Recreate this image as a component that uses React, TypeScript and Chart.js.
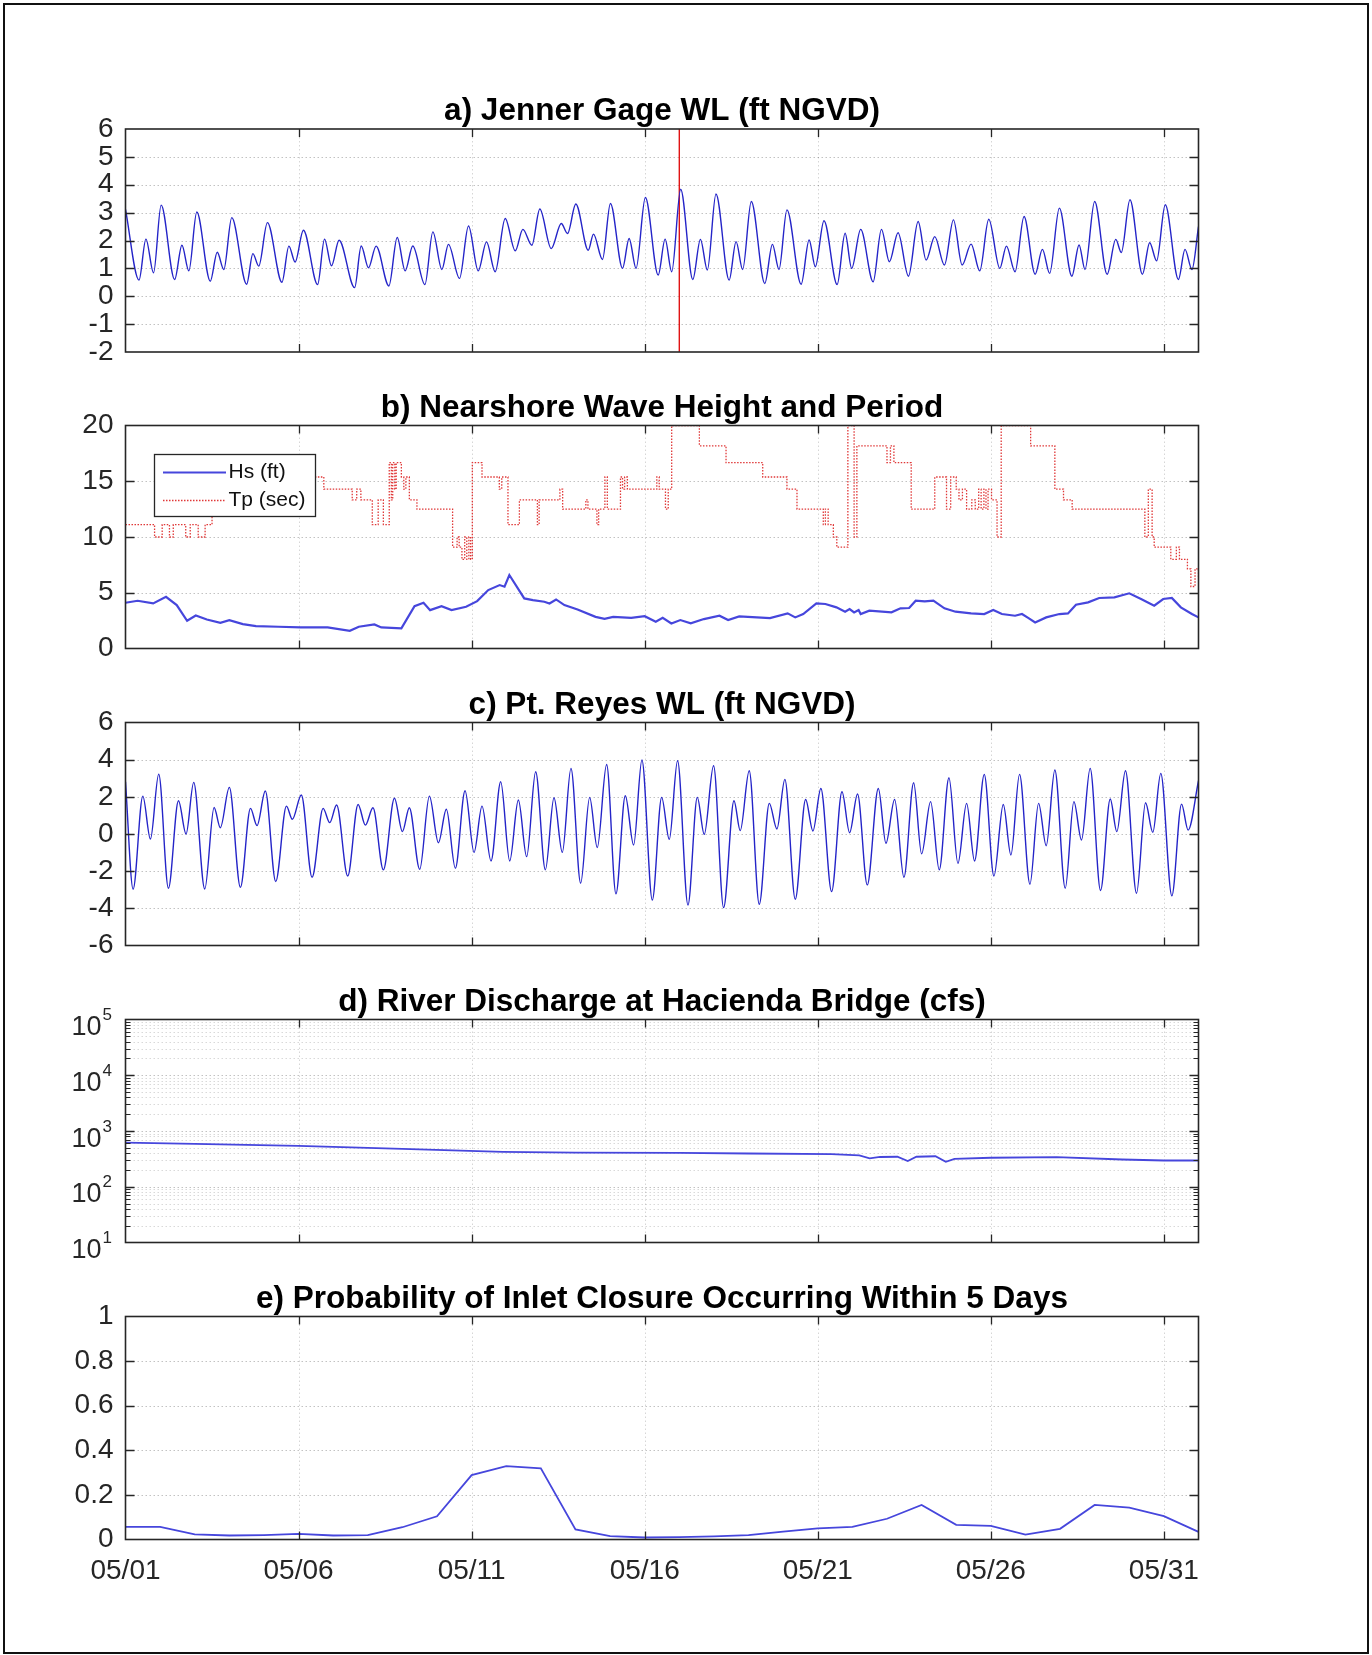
import React, { useEffect, useRef } from 'react';
import { Chart, registerables } from 'chart.js';

Chart.register(...registerables);

const FONT = '"Liberation Sans", Arial, Helvetica, sans-serif';
const AXIS_COLOR = '#262626';
const PAGE_W = 1372;
const PAGE_H = 1655;
const PLOT_LEFT = 125.5;
const PLOT_RIGHT = 1198.5;
const PLOT_H = 223;

// ---------- shared x axis (days since 05/01) ----------
const X_MIN = 0;
const X_MAX = 31;
const xTickDays = [0, 5, 10, 15, 20, 25, 30];
const xTickLabels = ['05/01', '05/06', '05/11', '05/16', '05/21', '05/26', '05/31'];

// ---------- titles ----------
const titleA = 'a) Jenner Gage WL (ft NGVD)';
const titleB = 'b) Nearshore Wave Height and Period';
const titleC = 'c) Pt. Reyes WL (ft NGVD)';
const titleD = 'd) River Discharge at Hacienda Bridge (cfs)';
const titleE = 'e) Probability of Inlet Closure Occurring Within 5 Days';

// ---------- a) Jenner gage water level: [day, ft] (highs and lows) ----------
const jennerWL: [number, number][] = [
  [0, 3.12], [0.39, 0.58], [0.59, 2.05], [0.81, 0.84], [1.03, 3.27], [1.42, 0.6], [1.63, 1.83], [1.83, 0.91],
  [2.06, 3.02], [2.45, 0.54], [2.65, 1.58], [2.84, 0.96], [3.07, 2.82], [3.5, 0.43], [3.68, 1.53], [3.85, 1.08],
  [4.1, 2.64], [4.52, 0.5], [4.72, 1.8], [4.9, 1.23], [5.14, 2.37], [5.55, 0.42], [5.75, 2.05], [5.95, 1.09],
  [6.17, 2.01], [6.62, 0.31], [6.81, 1.8], [7.02, 1.02], [7.24, 1.8], [7.61, 0.37], [7.85, 2.11], [8.08, 0.91],
  [8.3, 1.8], [8.65, 0.42], [8.88, 2.31], [9.14, 0.96], [9.33, 1.86], [9.65, 0.64], [9.91, 2.52], [10.19, 0.91],
  [10.43, 1.95], [10.68, 0.88], [10.97, 2.79], [11.26, 1.63], [11.48, 2.4], [11.74, 1.83], [11.97, 3.13], [12.3, 1.71],
  [12.59, 2.61], [12.77, 2.25], [13.01, 3.31], [13.37, 1.65], [13.52, 2.23], [13.78, 1.32], [14.01, 3.33], [14.36, 1.0],
  [14.55, 2.07], [14.75, 1.0], [15.02, 3.54], [15.39, 0.76], [15.59, 2.05], [15.78, 0.88], [16.04, 3.84], [16.39, 0.6],
  [16.61, 2.04], [16.81, 0.94], [17.06, 3.67], [17.44, 0.58], [17.64, 1.96], [17.83, 0.96], [18.08, 3.4], [18.47, 0.46],
  [18.69, 1.86], [18.88, 0.96], [19.11, 3.1], [19.52, 0.43], [19.75, 2.02], [19.93, 1.06], [20.18, 2.71], [20.56, 0.42],
  [20.79, 2.26], [20.98, 1.0], [21.24, 2.4], [21.6, 0.52], [21.84, 2.4], [22.07, 1.24], [22.32, 2.28], [22.62, 0.72],
  [22.9, 2.68], [23.13, 1.3], [23.38, 2.14], [23.66, 1.12], [23.92, 2.74], [24.17, 1.12], [24.43, 1.87], [24.68, 0.91],
  [24.94, 2.76], [25.26, 1.0], [25.45, 1.8], [25.7, 0.88], [25.96, 2.86], [26.28, 0.79], [26.49, 1.68], [26.7, 0.82],
  [26.98, 3.16], [27.34, 0.72], [27.55, 1.84], [27.72, 0.96], [28.0, 3.4], [28.36, 0.79], [28.61, 2.04], [28.77, 1.57],
  [29.02, 3.46], [29.38, 0.79], [29.59, 1.92], [29.79, 1.27], [30.04, 3.28], [30.42, 0.6], [30.61, 1.68], [30.81, 0.96],
  [31.0, 2.5],
];
const markerDay = 16;

// ---------- b) wave height (ft) and peak period (sec) ----------
const waveHs: [number, number][] = [
  [0, 4.1], [0.35, 4.28], [0.8, 4.04], [1.17, 4.64], [1.48, 3.89], [1.78, 2.49], [2.03, 2.96], [2.35, 2.6],
  [2.74, 2.31], [3.0, 2.54], [3.39, 2.19], [3.77, 2.0], [4.42, 1.95], [5.06, 1.89], [5.84, 1.89], [6.48, 1.59],
  [6.74, 1.95], [7.19, 2.16], [7.39, 1.89], [7.97, 1.8], [8.35, 3.8], [8.61, 4.1], [8.8, 3.44], [9.13, 3.8],
  [9.42, 3.44], [9.84, 3.74], [10.16, 4.25], [10.48, 5.24], [10.81, 5.69], [10.95, 5.54], [11.09, 6.59], [11.52, 4.49],
  [11.77, 4.34], [12.1, 4.19], [12.25, 4.04], [12.44, 4.4], [12.68, 3.89], [13.06, 3.5], [13.58, 2.84], [13.84, 2.66],
  [14.09, 2.84], [14.61, 2.75], [15.0, 2.9], [15.32, 2.4], [15.52, 2.75], [15.77, 2.25], [16.03, 2.55], [16.33, 2.25],
  [16.71, 2.64], [17.16, 2.94], [17.41, 2.55], [17.73, 2.88], [18.24, 2.79], [18.62, 2.73], [19.13, 3.15], [19.35, 2.79],
  [19.58, 3.09], [19.96, 4.05], [20.22, 3.99], [20.54, 3.69], [20.79, 3.3], [20.92, 3.54], [21.05, 3.24], [21.18, 3.45],
  [21.24, 3.09], [21.49, 3.39], [22.13, 3.24], [22.39, 3.6], [22.64, 3.63], [22.83, 4.29], [23.09, 4.23], [23.34, 4.29],
  [23.66, 3.6], [23.98, 3.3], [24.43, 3.15], [24.81, 3.09], [25.07, 3.45], [25.32, 3.09], [25.7, 2.94], [25.9, 3.09],
  [26.09, 2.73], [26.28, 2.34], [26.6, 2.79], [26.98, 3.09], [27.23, 3.15], [27.46, 3.93], [27.81, 4.14], [28.13, 4.53],
  [28.57, 4.59], [29.0, 4.95], [29.34, 4.44], [29.72, 3.84], [29.98, 4.44], [30.23, 4.53], [30.49, 3.69], [30.81, 3.09],
  [31.0, 2.79],
];
const waveTp: [number, number][] = [
  [0, 11.11], [0.84, 10], [1.06, 11.11], [1.27, 10], [1.38, 11.11], [1.74, 10], [1.87, 11.11], [2.1, 10],
  [2.3, 11.11], [2.5, 12.5], [3.4, 14.29], [4.4, 15.38], [5.73, 14.29], [6.55, 13.33], [6.68, 14.29], [6.8, 13.33],
  [7.13, 11.11], [7.3, 13.33], [7.45, 11.11], [7.62, 16.67], [7.68, 13.33], [7.72, 16.67], [7.78, 14.29], [7.82, 16.67],
  [7.97, 15.38], [8.04, 14.29], [8.1, 15.38], [8.2, 13.33], [8.42, 12.5], [9.45, 9.09], [9.58, 10], [9.64, 9.09],
  [9.72, 8.0], [9.8, 10], [9.86, 8.0], [9.92, 10], [9.97, 8.0], [10.02, 16.67], [10.3, 15.38], [10.8, 14.29],
  [10.87, 15.38], [11.05, 11.11], [11.38, 13.33], [11.9, 11.11], [11.95, 13.33], [12.55, 14.29], [12.63, 12.5], [13.3, 13.33],
  [13.36, 12.5], [13.62, 11.11], [13.67, 12.5], [13.85, 15.38], [13.92, 12.5], [14.3, 15.38], [14.36, 14.29], [14.42, 15.38],
  [14.5, 14.29], [15.35, 15.38], [15.42, 14.29], [15.6, 12.5], [15.68, 14.29], [15.78, 20], [16.58, 18.18], [17.35, 16.67],
  [18.41, 15.38], [19.11, 14.29], [19.4, 12.5], [20.16, 11.11], [20.22, 12.5], [20.3, 11.11], [20.45, 10], [20.55, 9.09],
  [20.87, 20], [21.05, 10], [21.13, 18.18], [22.0, 16.67], [22.1, 18.18], [22.2, 16.67], [22.7, 12.5], [23.38, 15.38],
  [23.72, 12.5], [23.84, 15.38], [24.0, 14.29], [24.08, 13.33], [24.18, 14.29], [24.3, 12.5], [24.45, 13.33], [24.55, 12.5],
  [24.65, 14.29], [24.72, 12.5], [24.8, 14.29], [24.86, 12.5], [24.92, 14.29], [25.02, 13.33], [25.18, 10], [25.3, 20],
  [26.15, 18.18], [26.85, 14.29], [27.1, 13.33], [27.35, 12.5], [29.45, 10], [29.55, 14.29], [29.66, 10], [29.72, 9.09],
  [30.2, 8.0], [30.36, 9.09], [30.45, 8.0], [30.68, 7.14], [30.78, 5.56], [30.9, 7.14], [31, 6.25],
];

// ---------- c) Pt. Reyes water level: [day, ft] (highs and lows) ----------
const reyesWL: [number, number][] = [
  [0, 2.81], [0.22, -2.97], [0.5, 2.04], [0.72, -0.27], [0.96, 3.22], [1.24, -2.92], [1.53, 1.79], [1.75, 0.0],
  [1.97, 2.78], [2.29, -2.96], [2.56, 1.43], [2.74, 0.34], [3.0, 2.51], [3.32, -2.87], [3.61, 1.38], [3.8, 0.45],
  [4.04, 2.31], [4.34, -2.56], [4.65, 1.5], [4.82, 0.79], [5.08, 2.1], [5.39, -2.33], [5.71, 1.38], [5.9, 0.61],
  [6.1, 1.56], [6.42, -2.26], [6.72, 1.59], [6.93, 0.48], [7.15, 1.41], [7.45, -1.93], [7.77, 1.92], [8.0, 0.13],
  [8.2, 1.41], [8.5, -1.9], [8.78, 2.04], [9.04, -0.47], [9.27, 1.33], [9.53, -1.84], [9.81, 2.33], [10.07, -0.99],
  [10.3, 1.5], [10.56, -1.45], [10.84, 2.81], [11.1, -1.45], [11.35, 1.83], [11.59, -1.22], [11.85, 3.35], [12.13, -1.93],
  [12.38, 1.95], [12.62, -0.99], [12.87, 3.53], [13.15, -2.65], [13.41, 1.97], [13.63, -0.73], [13.9, 3.74], [14.17, -3.22],
  [14.44, 2.06], [14.68, -0.59], [14.92, 3.98], [15.22, -3.55], [15.49, 1.97], [15.71, -0.29], [15.95, 3.94], [16.25, -3.82],
  [16.52, 1.97], [16.72, -0.02], [16.99, 3.67], [17.28, -3.96], [17.58, 1.79], [17.76, 0.18], [18.02, 3.4], [18.31, -3.78],
  [18.6, 1.65], [18.82, 0.27], [19.05, 2.94], [19.35, -3.51], [19.65, 1.86], [19.86, 0.16], [20.09, 2.45], [20.4, -3.1],
  [20.7, 2.27], [20.92, 0.07], [21.15, 2.15], [21.43, -2.74], [21.75, 2.45], [21.97, -0.5], [22.22, 1.86], [22.49, -2.33],
  [22.77, 2.76], [23.0, -1.07], [23.26, 1.74], [23.51, -1.93], [23.79, 3.03], [24.05, -1.58], [24.3, 1.65], [24.53, -1.45],
  [24.81, 3.21], [25.09, -2.26], [25.36, 1.59], [25.58, -1.13], [25.83, 3.21], [26.13, -2.7], [26.38, 1.65], [26.6, -0.63],
  [26.85, 3.44], [27.15, -2.92], [27.4, 1.74], [27.62, -0.32], [27.87, 3.53], [28.17, -3.04], [28.45, 1.88], [28.64, 0.13],
  [28.89, 3.4], [29.21, -3.19], [29.47, 1.68], [29.68, 0.09], [29.91, 3.26], [30.23, -3.33], [30.51, 1.61], [30.7, 0.21],
  [31.0, 2.87],
];

// ---------- d) river discharge (cfs) ----------
const discharge: [number, number][] = [
  [0, 620], [2, 590], [5, 540], [8, 478], [10.9, 422], [13, 410], [16, 405], [18, 395], [20.4, 384], [21.2, 365],
  [21.5, 322], [21.8, 342], [22.3, 345], [22.6, 290], [22.85, 345], [23.4, 352], [23.7, 280], [23.95, 316],
  [25, 331], [26.9, 339], [28.8, 308], [30, 296], [31, 296],
];
const logDecades = [1, 2, 3, 4, 5];

// ---------- e) probability of closure (daily) ----------
const closureProb: [number, number][] = [
  [0, 0.057], [1, 0.057], [2, 0.023], [3, 0.018], [4, 0.02], [5, 0.025], [6, 0.018], [7, 0.02],
  [8, 0.055], [9, 0.104], [10, 0.289], [11, 0.329], [12, 0.319], [13, 0.045], [14, 0.015], [15, 0.009],
  [16, 0.011], [17, 0.014], [18, 0.02], [19, 0.035], [20, 0.05], [21, 0.057], [22, 0.093], [23, 0.155],
  [24, 0.066], [25, 0.061], [26, 0.022], [27, 0.048], [28, 0.155], [29, 0.143], [30, 0.105], [31, 0.034],
];

// ---------- styles ----------
const WL_BLUE = '#2424c8';
const SOFT_BLUE = '#4646dc';
const TP_RED = '#e03838';
const MARK_RED = '#e01414';
const TICK_FONT_SIZE = 28;
const TITLE_FONT_SIZE = 31.5;

const toXY = (arr: [number, number][]) => arr.map(([x, y]) => ({ x, y }));

type PanelSpec = {
  key: string;
  title: string;
  chartTop: number;
  log?: boolean;
  yMin: number;
  yMax: number;
  yStep?: number;
  yGrid: number[];
  yMinor?: number[];
  showX: boolean;
  legend?: boolean;
  datasets: any[];
};

function range(a: number, b: number, s: number) {
  const out: number[] = [];
  for (let v = a; v <= b + 1e-9; v += s) out.push(Math.round(v * 1000) / 1000);
  return out;
}

function makeDeco(spec: PanelSpec) {
  return {
    id: 'deco_' + spec.key,
    beforeDatasetsDraw(chart: any) {
      const { ctx, chartArea: ca } = chart;
      const xs = chart.scales.x;
      const ys = chart.scales.y;
      ctx.save();
      ctx.lineWidth = 1;
      ctx.setLineDash([1.5, 2.5]);
      if (spec.yMinor) {
        ctx.strokeStyle = 'rgba(0,0,0,0.15)';
        for (const v of spec.yMinor) {
          const py = Math.round(ys.getPixelForValue(v)) + 0.5;
          ctx.beginPath();
          ctx.moveTo(ca.left, py);
          ctx.lineTo(ca.right, py);
          ctx.stroke();
        }
      }
      ctx.strokeStyle = 'rgba(0,0,0,0.24)';
      for (const v of spec.yGrid) {
        if (v <= spec.yMin || v >= spec.yMax) continue;
        const py = Math.round(ys.getPixelForValue(v)) + 0.5;
        ctx.beginPath();
        ctx.moveTo(ca.left, py);
        ctx.lineTo(ca.right, py);
        ctx.stroke();
      }
      ctx.strokeStyle = 'rgba(0,0,0,0.16)';
      for (const d of xTickDays) {
        if (d <= X_MIN || d >= X_MAX) continue;
        const px = Math.round(xs.getPixelForValue(d)) + 0.5;
        ctx.beginPath();
        ctx.moveTo(px, ca.top);
        ctx.lineTo(px, ca.bottom);
        ctx.stroke();
      }
      ctx.restore();
    },
    afterDatasetsDraw(chart: any) {
      const { ctx, chartArea: ca } = chart;
      const xs = chart.scales.x;
      const ys = chart.scales.y;
      ctx.save();
      ctx.setLineDash([]);
      ctx.strokeStyle = AXIS_COLOR;
      ctx.lineWidth = 1.3;
      // x ticks (inward, bottom and top)
      for (const d of xTickDays) {
        if (d <= X_MIN || d >= X_MAX) continue;
        const px = Math.round(xs.getPixelForValue(d)) + 0.5;
        ctx.beginPath();
        ctx.moveTo(px, ca.bottom);
        ctx.lineTo(px, ca.bottom - 8);
        ctx.moveTo(px, ca.top);
        ctx.lineTo(px, ca.top + 8);
        ctx.stroke();
      }
      // y ticks (inward, left and right)
      for (const v of spec.yGrid) {
        if (v <= spec.yMin || v >= spec.yMax) continue;
        const py = Math.round(ys.getPixelForValue(v)) + 0.5;
        ctx.beginPath();
        ctx.moveTo(ca.left, py);
        ctx.lineTo(ca.left + 9, py);
        ctx.moveTo(ca.right, py);
        ctx.lineTo(ca.right - 9, py);
        ctx.stroke();
      }
      if (spec.yMinor) {
        ctx.lineWidth = 1;
        for (const v of spec.yMinor) {
          const py = Math.round(ys.getPixelForValue(v)) + 0.5;
          ctx.beginPath();
          ctx.moveTo(ca.left, py);
          ctx.lineTo(ca.left + 5, py);
          ctx.moveTo(ca.right, py);
          ctx.lineTo(ca.right - 5, py);
          ctx.stroke();
        }
      }
      // box
      ctx.lineWidth = 1.6;
      ctx.strokeRect(ca.left, ca.top, ca.right - ca.left, ca.bottom - ca.top);

      // title
      ctx.fillStyle = '#000';
      ctx.font = `bold ${TITLE_FONT_SIZE}px ${FONT}`;
      ctx.textAlign = 'center';
      ctx.textBaseline = 'alphabetic';
      ctx.fillText(spec.title, (ca.left + ca.right) / 2, ca.top - 9);

      // log tick labels 10^n
      if (spec.log) {
        ctx.fillStyle = AXIS_COLOR;
        for (const e of logDecades) {
          const py = ys.getPixelForValue(Math.pow(10, e));
          ctx.font = `27px ${FONT}`;
          ctx.textAlign = 'right';
          ctx.fillText('10', ca.left - 24, py + 15.5);
          ctx.font = `17px ${FONT}`;
          ctx.textAlign = 'left';
          ctx.fillText(String(e), ca.left - 23, py + 0.5);
        }
      }

      // legend
      if (spec.legend) {
        const L = ca.left + 29;
        const T = ca.top + 29;
        const W = 161;
        const H = 62;
        ctx.fillStyle = '#fff';
        ctx.fillRect(L, T, W, H);
        ctx.strokeStyle = AXIS_COLOR;
        ctx.lineWidth = 1.3;
        ctx.strokeRect(L, T, W, H);
        const dsets = chart.data.datasets;
        const rows = [T + 18, T + 46];
        dsets.forEach((ds: any, i: number) => {
          if (i > 1) return;
          ctx.save();
          ctx.strokeStyle = ds.borderColor;
          ctx.lineWidth = ds.borderWidth;
          ctx.setLineDash(ds.borderDash || []);
          ctx.beginPath();
          ctx.moveTo(L + 8.5, rows[i]);
          ctx.lineTo(L + 71.5, rows[i]);
          ctx.stroke();
          ctx.restore();
          ctx.fillStyle = '#111';
          ctx.font = `21px ${FONT}`;
          ctx.textAlign = 'left';
          ctx.textBaseline = 'middle';
          ctx.fillText(ds.label, L + 74, rows[i]);
        });
      }
      ctx.restore();
    },
  };
}

const lineBase = { pointRadius: 0, pointHoverRadius: 0, fill: false };

const panels: PanelSpec[] = [
  {
    key: 'a',
    title: titleA,
    chartTop: 129,
    yMin: -2,
    yMax: 6,
    yStep: 1,
    yGrid: range(-2, 6, 1),
    showX: false,
    datasets: [
      {
        ...lineBase,
        label: 'Jenner WL',
        data: toXY(jennerWL),
        borderColor: WL_BLUE,
        borderWidth: 1.4,
        cubicInterpolationMode: 'monotone',
      },
      {
        ...lineBase,
        label: 'marker',
        data: [{ x: markerDay, y: -2 }, { x: markerDay, y: 6 }],
        borderColor: MARK_RED,
        borderWidth: 1.4,
      },
    ],
  },
  {
    key: 'b',
    title: titleB,
    chartTop: 425.5,
    yMin: 0,
    yMax: 20,
    yStep: 5,
    yGrid: range(0, 20, 5),
    showX: false,
    legend: true,
    datasets: [
      {
        ...lineBase,
        label: 'Hs (ft)',
        data: toXY(waveHs),
        borderColor: SOFT_BLUE,
        borderWidth: 2.2,
      },
      {
        ...lineBase,
        label: 'Tp (sec)',
        data: toXY(waveTp),
        borderColor: TP_RED,
        borderWidth: 1.3,
        borderDash: [1.5, 1.5],
        stepped: 'before',
      },
    ],
  },
  {
    key: 'c',
    title: titleC,
    chartTop: 722.5,
    yMin: -6,
    yMax: 6,
    yStep: 2,
    yGrid: range(-6, 6, 2),
    showX: false,
    datasets: [
      {
        ...lineBase,
        label: 'Pt. Reyes WL',
        data: toXY(reyesWL),
        borderColor: WL_BLUE,
        borderWidth: 1.4,
        cubicInterpolationMode: 'monotone',
      },
    ],
  },
  {
    key: 'd',
    title: titleD,
    chartTop: 1019.5,
    log: true,
    yMin: 10,
    yMax: 100000,
    yGrid: [10, 100, 1000, 10000, 100000],
    yMinor: logDecades.slice(0, 4).flatMap((e) => [2, 3, 4, 5, 6, 7, 8, 9].map((m) => m * Math.pow(10, e))),
    showX: false,
    datasets: [
      {
        ...lineBase,
        label: 'Discharge',
        data: toXY(discharge),
        borderColor: SOFT_BLUE,
        borderWidth: 1.8,
      },
    ],
  },
  {
    key: 'e',
    title: titleE,
    chartTop: 1316.5,
    yMin: 0,
    yMax: 1,
    yStep: 0.2,
    yGrid: range(0, 1, 0.2),
    showX: true,
    datasets: [
      {
        ...lineBase,
        label: 'Probability',
        data: toXY(closureProb),
        borderColor: SOFT_BLUE,
        borderWidth: 1.8,
      },
    ],
  },
];

function Panel({ spec }: { spec: PanelSpec }) {
  const ref = useRef<HTMLCanvasElement | null>(null);
  const canvasTop = Math.floor(spec.chartTop) - 72;
  const xAxisH = spec.showX ? 64 : 40;
  const canvasH = spec.showX ? PAGE_H - canvasTop : 72 + PLOT_H + xAxisH + 4;

  useEffect(() => {
    if (!ref.current) return;
    const padTop = spec.chartTop - canvasTop;
    const padBottom = canvasH - padTop - PLOT_H - xAxisH;
    const tickFont = { family: FONT, size: TICK_FONT_SIZE };

    const yScale: any = spec.log
      ? {
          type: 'logarithmic',
          min: spec.yMin,
          max: spec.yMax,
          grid: { display: false, drawTicks: false },
          border: { display: false },
          ticks: { display: false },
          afterFit: (s: any) => {
            s.width = PLOT_LEFT;
          },
        }
      : {
          type: 'linear',
          min: spec.yMin,
          max: spec.yMax,
          grid: { display: false, drawTicks: false },
          border: { display: false },
          ticks: {
            stepSize: spec.yStep,
            autoSkip: false,
            padding: 12,
            color: AXIS_COLOR,
            font: tickFont,
            callback: (v: any) => String(Number(Number(v).toFixed(3))),
          },
          afterFit: (s: any) => {
            s.width = PLOT_LEFT;
          },
        };

    const chart = new Chart(ref.current, {
      type: 'line',
      data: { datasets: spec.datasets },
      options: {
        animation: false,
        responsive: false,
        devicePixelRatio: 1,
        events: [],
        layout: {
          padding: { left: 0, right: PAGE_W - PLOT_RIGHT, top: padTop, bottom: padBottom },
        },
        plugins: {
          legend: { display: false },
          tooltip: { enabled: false },
          title: { display: false },
        },
        scales: {
          x: {
            type: 'linear',
            min: X_MIN,
            max: X_MAX,
            display: true,
            grid: { display: false, drawTicks: false },
            border: { display: false },
            afterBuildTicks: (s: any) => {
              s.ticks = xTickDays.map((v) => ({ value: v }));
            },
            afterFit: (s: any) => {
              s.height = xAxisH;
            },
            ticks: {
              display: spec.showX,
              autoSkip: false,
              maxRotation: 0,
              minRotation: 0,
              padding: 15,
              color: AXIS_COLOR,
              font: tickFont,
              callback: (v: any) => xTickLabels[xTickDays.indexOf(Number(v))] ?? '',
            },
          },
          y: yScale,
        },
      } as any,
      plugins: [makeDeco(spec)],
    });
    return () => chart.destroy();
  }, []);

  return (
    <canvas
      ref={ref}
      width={PAGE_W}
      height={canvasH}
      style={{ position: 'absolute', left: 0, top: canvasTop, width: PAGE_W, height: canvasH }}
    />
  );
}

export default function App() {
  return (
    <div
      style={{
        position: 'absolute',
        left: 0,
        top: 0,
        width: PAGE_W,
        height: PAGE_H,
        background: '#fff',
        overflow: 'hidden',
      }}
    >
      <div
        style={{
          position: 'absolute',
          left: 3,
          top: 3,
          width: 1366,
          height: 1651,
          border: '2px solid #111',
          boxSizing: 'border-box',
        }}
      />
      {panels.map((p) => (
        <Panel key={p.key} spec={p} />
      ))}
    </div>
  );
}
